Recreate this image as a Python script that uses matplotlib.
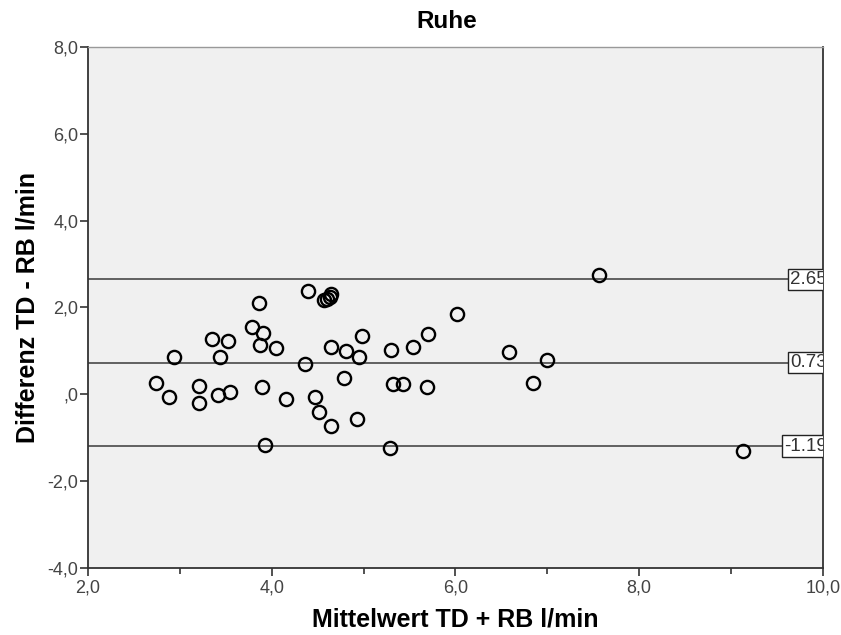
import matplotlib
matplotlib.use("Agg")
import matplotlib.pyplot as plt
from matplotlib.ticker import FixedLocator, FuncFormatter

# Bland-Altman data: mean of both methods (x) and their difference (y), l/min
mittelwert = [2.74, 2.885, 2.94, 3.21, 3.21, 3.35, 3.41, 3.44, 3.52, 3.55,
              3.86, 3.78, 3.91, 3.875, 3.89, 4.05, 3.93, 4.16, 4.39,
              4.57, 4.60, 4.63, 4.65, 4.36, 4.47, 4.51, 4.64, 4.64, 4.81,
              4.79, 4.95, 4.98, 4.93, 5.30, 5.29, 5.32, 5.43, 5.54, 5.70,
              5.69, 6.02, 6.58, 6.84, 7.00, 7.56, 9.13]
differenz = [0.25, -0.06, 0.85, 0.19, -0.21, 1.27, -0.01, 0.85, 1.22, 0.06,
             2.10, 1.54, 1.41, 1.13, 0.17, 1.07, -1.17, -0.11, 2.38,
             2.17, 2.20, 2.24, 2.30, 0.70, -0.07, -0.41, -0.74, 1.08, 1.00,
             0.37, 0.87, 1.34, -0.56, 1.01, -1.24, 0.23, 0.23, 1.08, 1.40,
             0.17, 1.85, 0.98, 0.26, 0.80, 2.76, -1.31]

# mean difference and limits of agreement
limits = [2.65, 0.73, -1.19]

x_ticks = [2, 4, 6, 8, 10]
y_ticks = [-4, -2, 0, 2, 4, 6, 8]


def spss_fmt(v, pos):
    s = "%.1f" % v
    s = s.replace(".", ",")
    if s.startswith("0,"):
        s = s[1:]
    return s


plt.rcParams['font.family'] = ['Liberation Sans', 'DejaVu Sans']

fig = plt.figure(figsize=(8.41, 6.35), dpi=100)
ax = fig.add_axes([0.1046, 0.1055, 0.874, 0.8205])
ax.set_facecolor('#f0f0f0')

# reference lines with value boxes (clipped at the right frame)
for v in limits:
    ax.axhline(v, color='#555555', linewidth=1.3, zorder=1)
    ax.text(10.04, v, "%.2f" % v, ha='right', va='center', fontsize=13.5,
            color='#333333', zorder=3, clip_on=True,
            bbox=dict(boxstyle='square,pad=0.12', facecolor='white',
                      edgecolor='#222222', linewidth=1))

# points
ax.plot(mittelwert, differenz, linestyle='none', marker='o', markersize=9.5,
        markerfacecolor='none', markeredgecolor='black',
        markeredgewidth=1.7, zorder=2)

ax.set_xlim(2, 10)
ax.set_ylim(-4, 8)
ax.xaxis.set_major_locator(FixedLocator(x_ticks))
ax.xaxis.set_minor_locator(FixedLocator([3, 5, 7, 9]))
ax.yaxis.set_major_locator(FixedLocator(y_ticks))
ax.xaxis.set_major_formatter(FuncFormatter(spss_fmt))
ax.yaxis.set_major_formatter(FuncFormatter(spss_fmt))

ax.tick_params(axis='both', which='major', length=6, width=1.2,
               color='#333333', labelsize=13, labelcolor='#444444')
ax.tick_params(axis='x', which='minor', length=4, width=1.2, color='#333333')
ax.tick_params(axis='y', pad=1)
ax.tick_params(axis='x', pad=2)

for sp in ax.spines.values():
    sp.set_color('#333333')
    sp.set_linewidth(1.3)
ax.spines['top'].set_color('#999999')
ax.spines['top'].set_linewidth(1.0)

fig.text(447 / 841, 1 - 22 / 635, "Ruhe", fontsize=17.5, fontweight='bold',
         ha='center', va='center')
ax.set_xlabel("Mittelwert TD + RB l/min", fontsize=18, fontweight='bold',
              labelpad=8)
ax.set_ylabel("Differenz TD - RB l/min", fontsize=18, fontweight='bold',
              labelpad=6)

fig.savefig("out.png", dpi=100)
